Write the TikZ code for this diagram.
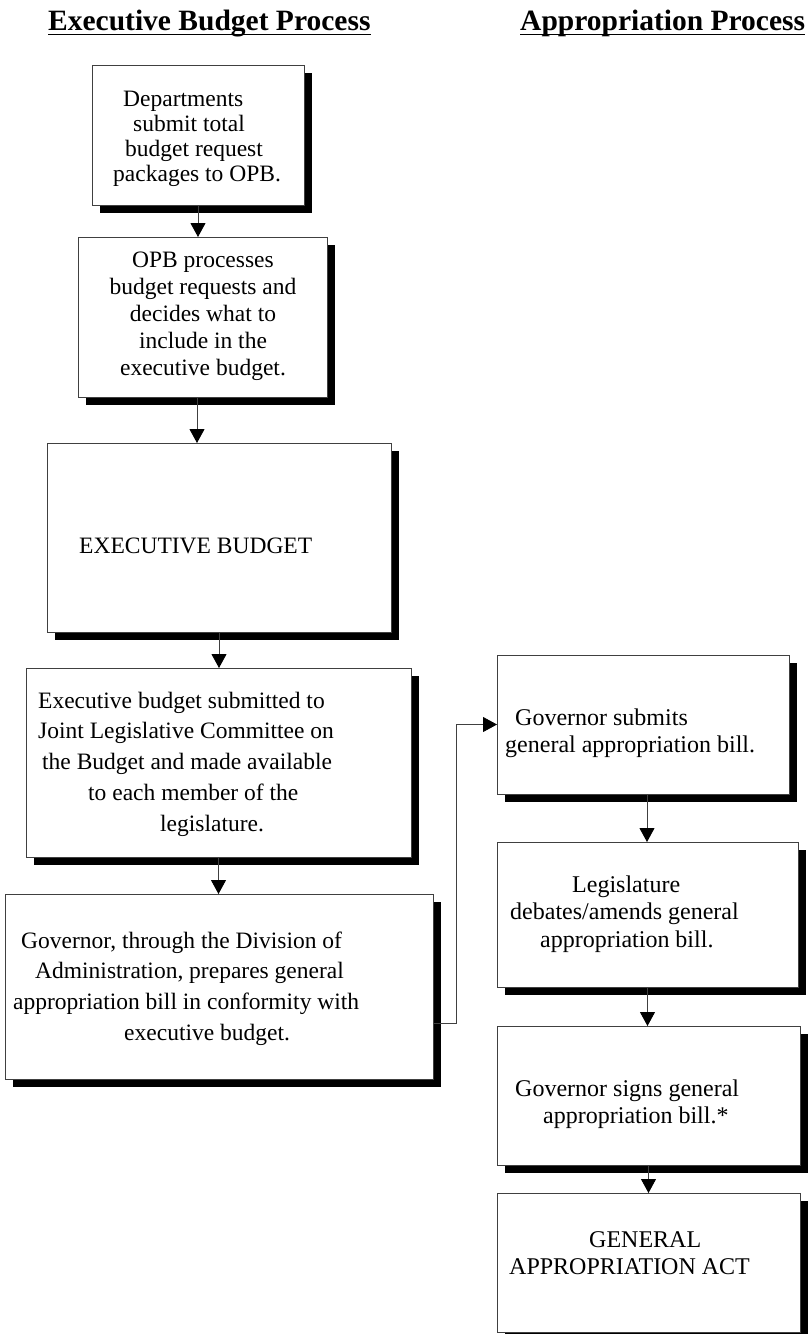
\documentclass[tikz,border=0pt]{standalone}
\usepackage{fontspec}
\setmainfont{Liberation Serif}
\usetikzlibrary{arrows.meta,shadows}
\begin{document}
\begin{tikzpicture}[x=1pt,y=-1pt,
  box/.style={draw=black!75, line width=0.9pt, fill=white, inner sep=0pt, outer sep=0pt, anchor=north west,
    drop shadow={shadow xshift=7.5pt, shadow yshift=-7.5pt, fill=black, opacity=1}},
  txt/.style={inner sep=0pt, align=left, anchor=west},
  head/.style={inner sep=0pt, anchor=base west, font=\fontsize{29.5}{32}\selectfont\bfseries},
  arr/.style={draw=black!75, line width=0.9pt, -{Triangle[length=14pt,width=15pt,color=black]}}]
\useasboundingbox (0,0) rectangle (811,1334);
% headings
\node[head] (h1) at (48,30) {Executive Budget Process};
\node[head] (h2) at (520,30) {Appropriation Process};
\draw[line width=1.6pt] ([yshift=-4.5pt]h1.base west) -- ([yshift=-4.5pt]h1.base east);
\draw[line width=1.6pt] ([yshift=-4.5pt]h2.base west) -- ([yshift=-4.5pt]h2.base east);
% left column boxes
\node[box, minimum width=212pt, minimum height=140pt] (b1) at (92,65) {};
\node[box, minimum width=249pt, minimum height=160pt] (b2) at (78,237) {};
\node[box, minimum width=344pt, minimum height=189pt] (b3) at (47,443) {};
\node[box, minimum width=385pt, minimum height=189pt] (b4) at (26,668) {};
\node[box, minimum width=428pt, minimum height=185pt] (b5) at (5,894) {};
% right column boxes
\node[box, minimum width=292pt, minimum height=139pt] (b6) at (497,655) {};
\node[box, minimum width=301pt, minimum height=145pt] (b7) at (497,842) {};
\node[box, minimum width=303pt, minimum height=139pt] (b8) at (497,1026) {};
\node[box, minimum width=303pt, minimum height=139pt] (b9) at (497,1193) {};
% texts
\node[txt, font=\fontsize{23.5}{25}\selectfont] (t1) at (113,139)
  {\hspace*{10pt}Departments\\ \hspace*{20pt}submit total\\ \hspace*{12pt}budget request\\ packages to OPB.};
\node[txt, align=center, anchor=center, font=\fontsize{23.5}{27}\selectfont] (t2) at (203,316)
  {OPB processes\\ budget requests and\\ decides what to\\ include in the\\ executive budget.};
\node[txt, font=\fontsize{23.5}{26}\selectfont] (t3) at (79,545.5) {EXECUTIVE BUDGET};
\node[txt, font=\fontsize{23.5}{30.75}\selectfont] (t4) at (38,764)
  {Executive budget submitted to\\ Joint Legislative Committee on\\ \hspace*{4pt}the Budget and made available\\ \hspace*{50pt}to each member of the\\ \hspace*{122pt}legislature.};
\node[txt, font=\fontsize{23.5}{30.7}\selectfont] (t5) at (13,988.5)
  {\hspace*{8pt}Governor, through the Division of\\ \hspace*{22pt}Administration, prepares general\\ appropriation bill in conformity with\\ \hspace*{111pt}executive budget.};
\node[txt, font=\fontsize{24}{27}\selectfont] (t6) at (505,733)
  {\hspace*{10pt}Governor submits\\ general appropriation bill.};
\node[txt, font=\fontsize{24}{27.5}\selectfont] (t7) at (510,914)
  {\hspace*{62pt}Legislature\\ debates/amends general\\ \hspace*{30pt}appropriation bill.};
\node[txt, font=\fontsize{24}{27}\selectfont] (t8) at (515,1104)
  {Governor signs general\\ \hspace*{28pt}appropriation bill.*};
\node[txt, font=\fontsize{24}{27}\selectfont] (t9) at (509,1253)
  {\hspace*{80pt}GENERAL\\ APPROPRIATION ACT};
% connectors
\draw[arr] (b1.south) -- ([xshift=-4.5pt]b2.north);
\draw[arr] ([xshift=-5.5pt]b2.south) -- ([xshift=-22pt]b3.north);
\draw[arr] (b3.south) -- (b3.south |- b4.north);
\draw[arr] (b4.south) -- (b4.south |- b5.north);
\draw[arr] ([yshift=-36.5pt]b5.east) -- ++(23,0) |- (b6.west);
\draw[arr] ([xshift=4pt]b6.south) -- ([xshift=-0.5pt]b7.north);
\draw[arr] (b7.south) -- (b7.south |- b8.north);
\draw[arr] (b8.south) -- (b8.south |- b9.north);
\end{tikzpicture}
\end{document}
